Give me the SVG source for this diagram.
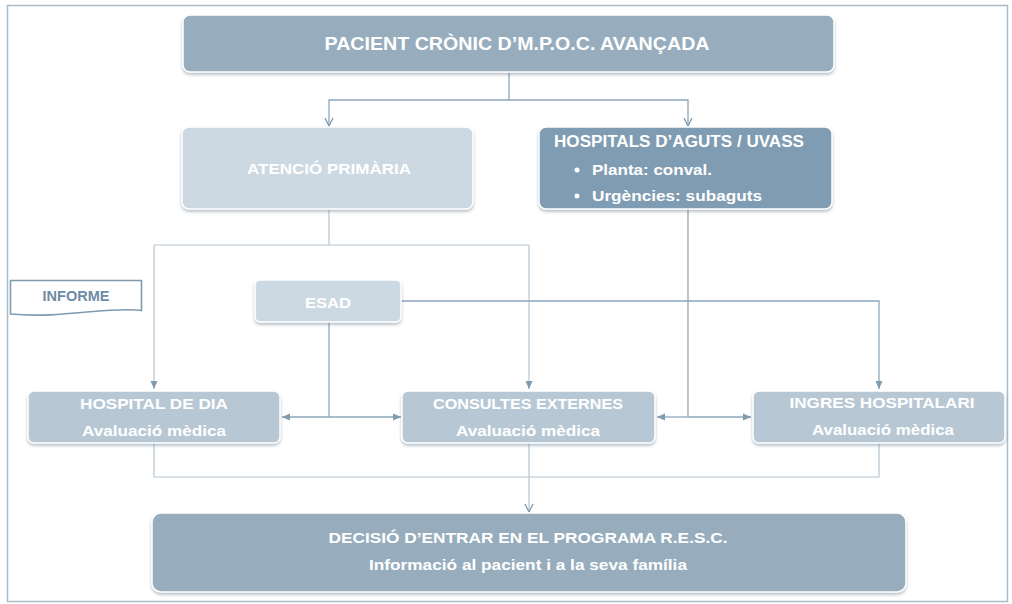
<svg xmlns="http://www.w3.org/2000/svg" width="1012" height="604" viewBox="0 0 1012 604">
<defs>
<filter id="sh" x="-5%" y="-10%" width="110%" height="130%">
<feDropShadow dx="0" dy="2" stdDeviation="1.6" flood-color="#5a7386" flood-opacity="0.45"/>
</filter>
<marker id="tri" viewBox="0 0 8 8" refX="8" refY="4" markerWidth="8" markerHeight="8" markerUnits="userSpaceOnUse" orient="auto">
<path d="M0,0.5 L8,4 L0,7.5 Z" fill="#7f9bb0"/>
</marker>
<marker id="vee" viewBox="0 0 10 10" refX="9" refY="5" markerWidth="10" markerHeight="10" markerUnits="userSpaceOnUse" orient="auto">
<path d="M1,1 L9,5 L1,9" fill="none" stroke="#7f9bb0" stroke-width="1.3"/>
</marker>
</defs>
<style>
.box{stroke:#ffffff;stroke-width:1.5;filter:url(#sh)}
.dark{fill:#97adbd}
.hosp{fill:#7f9cb2}
.light{fill:#cdd9e2}
.mid{fill:#b7c8d4}
.t{font-family:"Liberation Sans",Arial,sans-serif;font-weight:bold;fill:#ffffff;text-anchor:middle}
.s{text-anchor:start}
.ln{fill:none;stroke:#8ea7ba;stroke-width:1.3}
.lnl{fill:none;stroke:#b3c5d2;stroke-width:1.2}
</style>
<rect x="0" y="0" width="1012" height="604" fill="#ffffff"/>
<rect x="7.5" y="5.5" width="1000" height="596" fill="none" stroke="#a9bccb" stroke-width="1.5"/>

<g id="connectors">
<path class="ln" d="M509,72 V100 H329 V126" marker-end="url(#vee)"/>
<path class="ln" d="M509,100 H688 V126" marker-end="url(#vee)"/>
<path class="lnl" d="M329,209 V245"/>
<path class="lnl" d="M154,245 H529"/>
<path class="lnl" d="M154,245 V389" marker-end="url(#tri)"/>
<path class="lnl" d="M529,245 V389" marker-end="url(#tri)"/>
<path class="ln" d="M401,301 H879 V389" marker-end="url(#tri)"/>
<path class="ln" d="M329,322 V417"/>
<path class="ln" d="M329,417 H282" marker-end="url(#tri)"/>
<path class="ln" d="M329,417 H401" marker-end="url(#tri)"/>
<path class="ln" d="M688,209 V417"/>
<path class="ln" d="M688,417 H657" marker-end="url(#tri)"/>
<path class="ln" d="M688,417 H751" marker-end="url(#tri)"/>
<path class="lnl" d="M154,443 V477 H879 V443"/>
<path class="lnl" d="M529,443 V512" marker-end="url(#vee)"/>
</g>

<g id="pacient">
<rect class="box dark" x="183" y="15" width="651" height="57" rx="7"/>
<text class="t" x="517" y="50" font-size="18" textLength="385" lengthAdjust="spacingAndGlyphs">PACIENT CRÒNIC D’M.P.O.C. AVANÇADA</text>
</g>

<g id="atencio">
<rect class="box light" x="182" y="127" width="291" height="82" rx="7"/>
<text class="t" x="329" y="174" font-size="15" textLength="164" lengthAdjust="spacingAndGlyphs">ATENCIÓ PRIMÀRIA</text>
</g>

<g id="hospitals">
<rect class="box hosp" x="539" y="127" width="293" height="82" rx="7"/>
<text class="t s" x="554" y="147" font-size="16" textLength="250" lengthAdjust="spacingAndGlyphs">HOSPITALS D’AGUTS / UVASS</text>
<circle cx="577" cy="170" r="2.5" fill="#ffffff"/>
<text class="t s" x="592" y="175" font-size="15" textLength="120" lengthAdjust="spacingAndGlyphs">Planta: conval.</text>
<circle cx="577" cy="196" r="2.5" fill="#ffffff"/>
<text class="t s" x="592" y="201" font-size="15" textLength="170" lengthAdjust="spacingAndGlyphs">Urgències: subaguts</text>
</g>

<g id="informe">
<path d="M10.5,280.5 H141.5 V310.5 C110,306 60,319 10.5,314 Z" fill="#ffffff" stroke="#7f9bb0" stroke-width="1.6"/>
<text class="t" x="76" y="301" font-size="14" style="fill:#6e8ca5" textLength="67" lengthAdjust="spacingAndGlyphs">INFORME</text>
</g>

<g id="esad">
<rect class="box light" x="255" y="280" width="146" height="42" rx="5"/>
<text class="t" x="328" y="308" font-size="15" textLength="46" lengthAdjust="spacingAndGlyphs">ESAD</text>
</g>

<g id="hospital-dia">
<rect class="box mid" x="28" y="391" width="252" height="52" rx="6"/>
<text class="t" x="154" y="409" font-size="15" textLength="148" lengthAdjust="spacingAndGlyphs">HOSPITAL DE DIA</text>
<text class="t" x="154" y="436" font-size="15" textLength="144" lengthAdjust="spacingAndGlyphs">Avaluació mèdica</text>
</g>

<g id="consultes">
<rect class="box mid" x="402" y="391" width="253" height="52" rx="6"/>
<text class="t" x="528" y="409" font-size="15" textLength="190" lengthAdjust="spacingAndGlyphs">CONSULTES EXTERNES</text>
<text class="t" x="528" y="436" font-size="15" textLength="144" lengthAdjust="spacingAndGlyphs">Avaluació mèdica</text>
</g>

<g id="ingres">
<rect class="box mid" x="753" y="391" width="252" height="52" rx="6"/>
<text class="t" x="882" y="408" font-size="15" textLength="185" lengthAdjust="spacingAndGlyphs">INGRES HOSPITALARI</text>
<text class="t" x="883" y="435" font-size="15" textLength="142" lengthAdjust="spacingAndGlyphs">Avaluació mèdica</text>
</g>

<g id="decisio">
<rect class="box dark" x="152" y="513" width="754" height="79" rx="9"/>
<text class="t" x="528" y="543" font-size="15" textLength="399" lengthAdjust="spacingAndGlyphs">DECISIÓ D’ENTRAR EN EL PROGRAMA R.E.S.C.</text>
<text class="t" x="528" y="570" font-size="15" textLength="318" lengthAdjust="spacingAndGlyphs">Informació al pacient i a la seva família</text>
</g>
</svg>
